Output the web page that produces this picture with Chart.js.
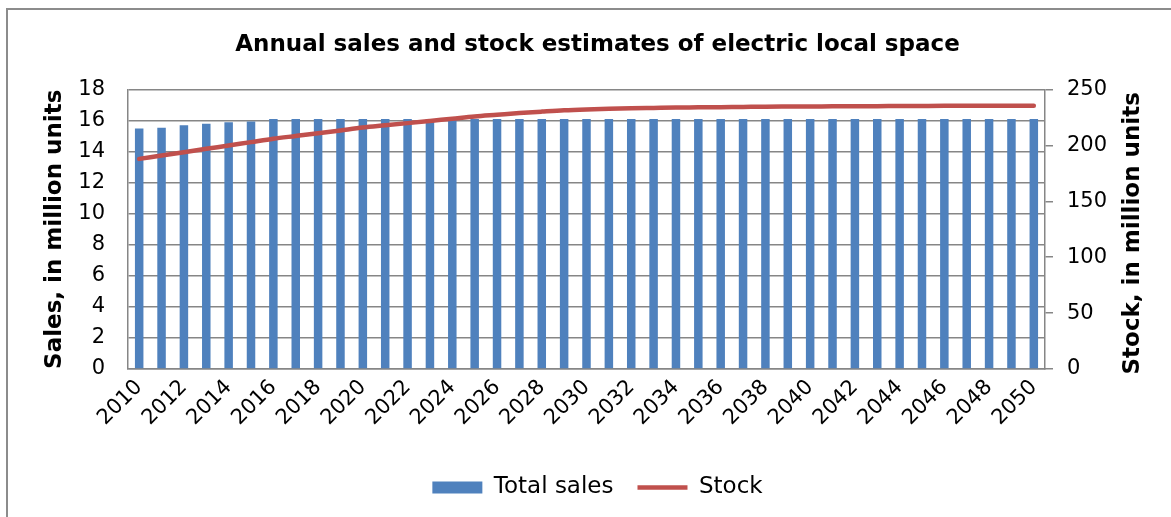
<!DOCTYPE html>
<html>
<head>
<meta charset="utf-8">
<script src="https://cdn.jsdelivr.net/npm/chart.js@4/dist/chart.umd.min.js"></script>
<style>
  html, body { margin: 0; padding: 0; background: #fff; overflow: hidden; }
  #frame { position: absolute; left: 6px; top: 8px; width: 2000px; height: 2000px; border: 2px solid #8c8c8c; }
  #wrap { position: absolute; left: 0; top: 0; width: 1171px; height: 517px; }
</style>
</head>
<body>
<div id="frame"></div>
<div id="wrap"><canvas id="chart" width="1171" height="517"></canvas></div>
<script>
const years = [];
for (let y = 2010; y <= 2050; y++) years.push(String(y));

const totalSales = [
  15.5, 15.55, 15.7, 15.8, 15.9, 15.95, 16.1, 16.1, 16.1, 16.1,
  16.1, 16.1, 16.1, 16.1, 16.1, 16.1, 16.1, 16.1, 16.1, 16.1,
  16.1, 16.1, 16.1, 16.1, 16.1, 16.1, 16.1, 16.1, 16.1, 16.1,
  16.1, 16.1, 16.1, 16.1, 16.1, 16.1, 16.1, 16.1, 16.1, 16.1,
  16.1
];

const stock = [
  188, 191, 194, 197, 200, 203, 206, 208.5, 211, 213.5,
  216, 218, 220, 222, 224, 226, 227.5, 229, 230.3, 231.5,
  232.3, 232.9, 233.3, 233.6, 233.9, 234.1, 234.3, 234.5, 234.7, 234.8,
  234.9, 235, 235.1, 235.2, 235.3, 235.4, 235.5, 235.5, 235.6, 235.6,
  235.6
];

const salesTicks = [0, 2, 4, 6, 8, 10, 12, 14, 16, 18];
const stockTicks = [0, 50, 100, 150, 200, 250];
const rightTitle = 'Stock, in million units';

const gridColor = '#868686';
const textColor = '#000000';
const fontFamily = "'DejaVu Sans', Verdana, sans-serif";

// right axis title reads bottom-to-top like the left one
const rightTitlePlugin = {
  id: 'rightTitle',
  afterDraw(chart) {
    const c = chart.ctx;
    const area = chart.chartArea;
    c.save();
    c.translate(1133, (area.top + area.bottom) / 2 + 4);
    c.rotate(-Math.PI / 2);
    c.font = "bold 23px " + fontFamily;
    c.fillStyle = textColor;
    c.textAlign = 'center';
    c.textBaseline = 'middle';
    c.fillText(rightTitle, 0, 0);
    c.restore();
  }
};

const ctx = document.getElementById('chart');
new Chart(ctx, {
  data: {
    labels: years,
    datasets: [
      {
        type: 'bar',
        label: 'Total sales',
        data: totalSales,
        backgroundColor: '#4F81BD',
        borderWidth: 0,
        barPercentage: 0.38,
        categoryPercentage: 1,
        pointStyle: 'rect',
        yAxisID: 'y',
        order: 2
      },
      {
        type: 'line',
        label: 'Stock',
        data: stock,
        borderColor: '#C0504D',
        backgroundColor: '#C0504D',
        borderWidth: 4.5,
        borderCapStyle: 'round',
        cubicInterpolationMode: 'monotone',
        pointRadius: 0,
        pointStyle: 'line',
        yAxisID: 'y1',
        order: 1
      }
    ]
  },
  plugins: [rightTitlePlugin],
  options: {
    responsive: false,
    animation: false,
    layout: { padding: { left: 24, right: 0, top: 0, bottom: 8 } },
    plugins: {
      title: {
        display: true,
        text: 'Annual sales and stock estimates of electric local space',
        color: textColor,
        font: { family: fontFamily, size: 23, weight: 'bold' },
        padding: { top: 31, bottom: 31 }
      },
      legend: {
        position: 'bottom',
        labels: {
          color: textColor,
          font: { family: fontFamily, size: 23 },
          usePointStyle: true,
          pointStyleWidth: 50,
          boxHeight: 12,
          padding: 24,
          sort: (a, b) => a.datasetIndex - b.datasetIndex
        }
      },
      tooltip: { enabled: false }
    },
    scales: {
      x: {
        offset: true,
        grid: { display: false, drawTicks: false },
        border: { display: true, color: gridColor, width: 1.5 },
        ticks: {
          color: textColor,
          font: { family: fontFamily, size: 21 },
          autoSkip: false,
          minRotation: 45,
          maxRotation: 45,
          padding: 6,
          callback: function(value, index) {
            return index % 2 === 0 ? years[index] : '';
          }
        },
        afterFit: function(scale) { scale.height = 83; }
      },
      y: {
        position: 'left',
        min: 0,
        max: 18,
        afterBuildTicks: function(scale) { scale.ticks = salesTicks.map(v => ({ value: v })); },
        grid: { color: gridColor, lineWidth: 1.5, drawTicks: false },
        border: { display: true, color: gridColor, width: 1.5 },
        ticks: {
          color: textColor,
          font: { family: fontFamily, size: 21 },
          padding: 23
        },
        title: {
          display: true,
          text: 'Sales, in million units',
          color: textColor,
          font: { family: fontFamily, size: 23, weight: 'bold' },
          padding: { top: 17, bottom: 0 }
        },
        afterFit: function(scale) { scale.width = 104; }
      },
      y1: {
        position: 'right',
        min: 0,
        max: 250,
        afterBuildTicks: function(scale) { scale.ticks = stockTicks.map(v => ({ value: v })); },
        grid: { drawOnChartArea: false, color: gridColor, lineWidth: 1.5, tickLength: 8 },
        border: { display: true, color: gridColor, width: 1.5 },
        ticks: {
          color: textColor,
          font: { family: fontFamily, size: 21 },
          padding: 14
        },
        afterFit: function(scale) { scale.width = 126; }
      }
    }
  }
});
</script>
</body>
</html>
